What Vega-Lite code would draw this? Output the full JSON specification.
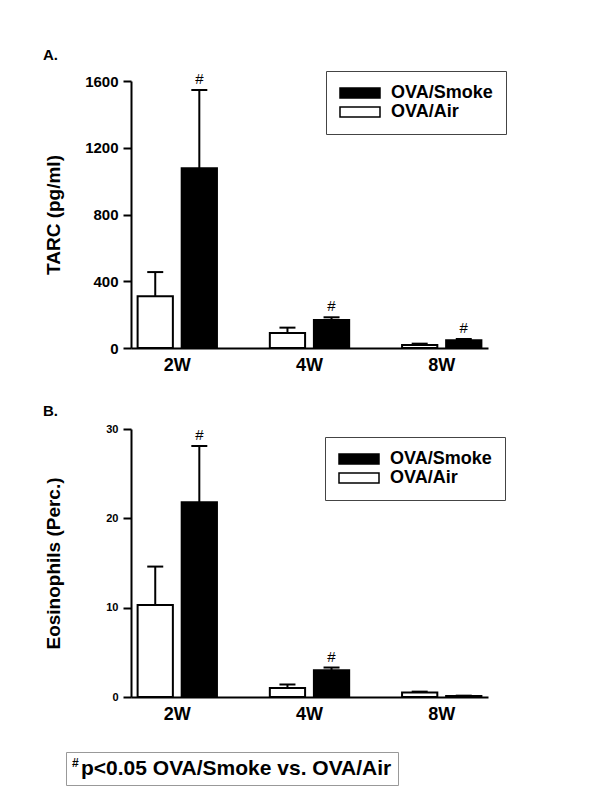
{
  "$schema": "https://vega.github.io/schema/vega-lite/v6.json",
  "background": "white",
  "padding": {"left": 43, "top": 47, "right": 5, "bottom": 5},
  "datasets": {
    "bars": [
      {"panel": "A", "week": "2W", "group": "OVA/Air", "value": 310, "upper": 455, "sig": false},
      {"panel": "A", "week": "2W", "group": "OVA/Smoke", "value": 1077, "upper": 1546, "sig": true},
      {"panel": "A", "week": "4W", "group": "OVA/Air", "value": 90, "upper": 122, "sig": false},
      {"panel": "A", "week": "4W", "group": "OVA/Smoke", "value": 168, "upper": 184, "sig": true},
      {"panel": "A", "week": "8W", "group": "OVA/Air", "value": 18, "upper": 26, "sig": false},
      {"panel": "A", "week": "8W", "group": "OVA/Smoke", "value": 46, "upper": 54, "sig": true},
      {"panel": "B", "week": "2W", "group": "OVA/Air", "value": 10.3, "upper": 14.6, "sig": false},
      {"panel": "B", "week": "2W", "group": "OVA/Smoke", "value": 21.8, "upper": 28.1, "sig": true},
      {"panel": "B", "week": "4W", "group": "OVA/Air", "value": 1.0, "upper": 1.4, "sig": false},
      {"panel": "B", "week": "4W", "group": "OVA/Smoke", "value": 3.0, "upper": 3.3, "sig": true},
      {"panel": "B", "week": "8W", "group": "OVA/Air", "value": 0.5, "upper": 0.6, "sig": false},
      {"panel": "B", "week": "8W", "group": "OVA/Smoke", "value": 0.1, "upper": 0.15, "sig": false}
    ],
    "note": [{"note": "p<0.05 OVA/Smoke vs. OVA/Air"}]
  },
  "config": {
    "view": {"stroke": null},
    "font": "Liberation Sans",
    "axis": {
      "domainColor": "black", "domainWidth": 2, "tickColor": "black", "tickWidth": 2,
      "labelColor": "black", "titleColor": "black", "labelFont": "Liberation Sans",
      "labelFontWeight": "bold", "titleFont": "Liberation Sans", "titleFontWeight": "bold", "grid": false
    },
    "legend": {
      "orient": "none", "title": null, "strokeColor": "#444", "fillColor": "white", "padding": 13,
      "symbolType": "M-1,-0.625H4V0.625H-1Z", "symbolSize": 256, "symbolStrokeColor": "black",
      "symbolStrokeWidth": 1.5, "labelFontSize": 18, "labelFontWeight": "bold", "labelFont": "Liberation Sans",
      "labelColor": "black", "rowPadding": 1, "labelOffset": 34
    },
    "title": {"font": "Liberation Sans", "fontSize": 15, "fontWeight": "bold", "color": "black", "anchor": "start", "frame": "group", "baseline": "alphabetic"}
  },
  "resolve": {"scale": {"x": "independent", "y": "independent", "color": "independent", "xOffset": "independent", "shape": "independent"}, "legend": {"color": "independent", "shape": "independent"}},
  "spacing": 30,
  "vconcat": [
    {
      "title": {"text": "A.", "dx": -88, "offset": 8},
      "width": 357, "height": 267,
      "data": {"name": "bars"},
      "transform": [{"filter": "datum.panel == 'A'"}],
      "encoding": {
        "x": {"field": "week", "type": "nominal", "sort": ["2W", "4W", "8W"], "scale": {"paddingInner": 0.4, "paddingOuter": 0.05},
          "axis": {"title": null, "labelAngle": 0, "labelFontSize": 18, "labelPadding": 8, "ticks": false}},
        "xOffset": {"field": "group", "type": "nominal", "sort": ["OVA/Air", "OVA/Smoke"], "scale": {"paddingInner": 0.2, "paddingOuter": 0}}
      },
      "layer": [
        {"mark": {"type": "bar", "stroke": "black", "strokeWidth": 2},
          "encoding": {
            "y": {"field": "value", "type": "quantitative", "scale": {"domain": [0, 1600]},
              "axis": {"title": "TARC (pg/ml)", "values": [0, 400, 800, 1200, 1600], "format": "d", "labelFontSize": 15, "titleFontSize": 19, "tickSize": 8, "labelPadding": 5, "titlePadding": 21}},
            "color": {"field": "group", "type": "nominal", "scale": {"domain": ["OVA/Smoke", "OVA/Air"], "range": ["black", "white"]},
              "legend": {"legendX": 195, "legendY": -10}}
          }},
        {"mark": {"type": "rule", "strokeWidth": 2, "color": "black"},
          "encoding": {"y": {"field": "value", "type": "quantitative",
            "axis": {"title": "TARC (pg/ml)", "values": [0, 400, 800, 1200, 1600], "format": "d", "labelFontSize": 15, "titleFontSize": 19, "tickSize": 8, "labelPadding": 5, "titlePadding": 21}}, "y2": {"field": "upper"}}},
        {"mark": {"type": "tick", "thickness": 2, "size": 16, "color": "black", "opacity": 1},
          "encoding": {"y": {"field": "upper", "type": "quantitative",
            "axis": {"title": "TARC (pg/ml)", "values": [0, 400, 800, 1200, 1600], "format": "d", "labelFontSize": 15, "titleFontSize": 19, "tickSize": 8, "labelPadding": 5, "titlePadding": 21}}}},
        {"transform": [{"filter": "datum.sig"}],
          "mark": {"type": "text", "baseline": "bottom", "dy": -3, "fontSize": 15, "font": "Liberation Sans", "color": "black"},
          "encoding": {"y": {"field": "upper", "type": "quantitative",
            "axis": {"title": "TARC (pg/ml)", "values": [0, 400, 800, 1200, 1600], "format": "d", "labelFontSize": 15, "titleFontSize": 19, "tickSize": 8, "labelPadding": 5, "titlePadding": 21}}, "text": {"value": "#"}}}
      ]
    },
    {
      "title": {"text": "B.", "dx": -88, "offset": 4},
      "width": 357, "height": 268,
      "layer": [
        {"data": {"name": "bars"},
          "transform": [{"filter": "datum.panel == 'B'"}],
          "encoding": {
            "x": {"field": "week", "type": "nominal", "sort": ["2W", "4W", "8W"], "scale": {"paddingInner": 0.4, "paddingOuter": 0.05},
              "axis": {"title": null, "labelAngle": 0, "labelFontSize": 18, "labelPadding": 8, "ticks": false}},
            "xOffset": {"field": "group", "type": "nominal", "sort": ["OVA/Air", "OVA/Smoke"], "scale": {"paddingInner": 0.2, "paddingOuter": 0}}
          },
          "layer": [
            {"mark": {"type": "bar", "stroke": "black", "strokeWidth": 2},
              "encoding": {
                "y": {"field": "value", "type": "quantitative", "scale": {"domain": [0, 30]},
                  "axis": {"title": "Eosinophils (Perc.)", "values": [0, 10, 20, 30], "labelFontSize": 11, "titleFontSize": 19, "tickSize": 8, "labelPadding": 5, "titlePadding": 42}},
                "color": {"field": "group", "type": "nominal", "scale": {"domain": ["OVA/Smoke", "OVA/Air"], "range": ["black", "white"]},
                  "legend": {"legendX": 194, "legendY": 8}}
              }},
            {"mark": {"type": "rule", "strokeWidth": 2, "color": "black"},
              "encoding": {"y": {"field": "value", "type": "quantitative",
                "axis": {"title": "Eosinophils (Perc.)", "values": [0, 10, 20, 30], "labelFontSize": 11, "titleFontSize": 19, "tickSize": 8, "labelPadding": 5, "titlePadding": 42}}, "y2": {"field": "upper"}}},
            {"mark": {"type": "tick", "thickness": 2, "size": 16, "color": "black", "opacity": 1},
              "encoding": {"y": {"field": "upper", "type": "quantitative",
                "axis": {"title": "Eosinophils (Perc.)", "values": [0, 10, 20, 30], "labelFontSize": 11, "titleFontSize": 19, "tickSize": 8, "labelPadding": 5, "titlePadding": 42}}}},
            {"transform": [{"filter": "datum.sig"}],
              "mark": {"type": "text", "baseline": "bottom", "dy": -3, "fontSize": 15, "font": "Liberation Sans", "color": "black"},
              "encoding": {"y": {"field": "upper", "type": "quantitative",
                "axis": {"title": "Eosinophils (Perc.)", "values": [0, 10, 20, 30], "labelFontSize": 11, "titleFontSize": 19, "tickSize": 8, "labelPadding": 5, "titlePadding": 42}}, "text": {"value": "#"}}}
          ]
        },
        {"data": {"name": "note"},
          "mark": {"type": "point", "opacity": 0},
          "encoding": {
            "shape": {"field": "note", "type": "nominal",
              "legend": {"legendX": -65, "legendY": 323, "title": "#", "titleOrient": "left", "titleFontSize": 12, "titleFontWeight": "bold",
                "titleColor": "black", "titleFont": "Liberation Sans", "titlePadding": 1, "titleBaseline": "top", "titleAnchor": "start",
                "strokeColor": "#999", "padding": 6, "symbolOpacity": 0, "symbolSize": 0, "symbolStrokeWidth": 0, "labelOffset": -20,
                "labelFontSize": 21, "labelFontWeight": "bold", "labelLimit": 500, "symbolType": "circle"}}
          }}
      ]
    }
  ]
}
